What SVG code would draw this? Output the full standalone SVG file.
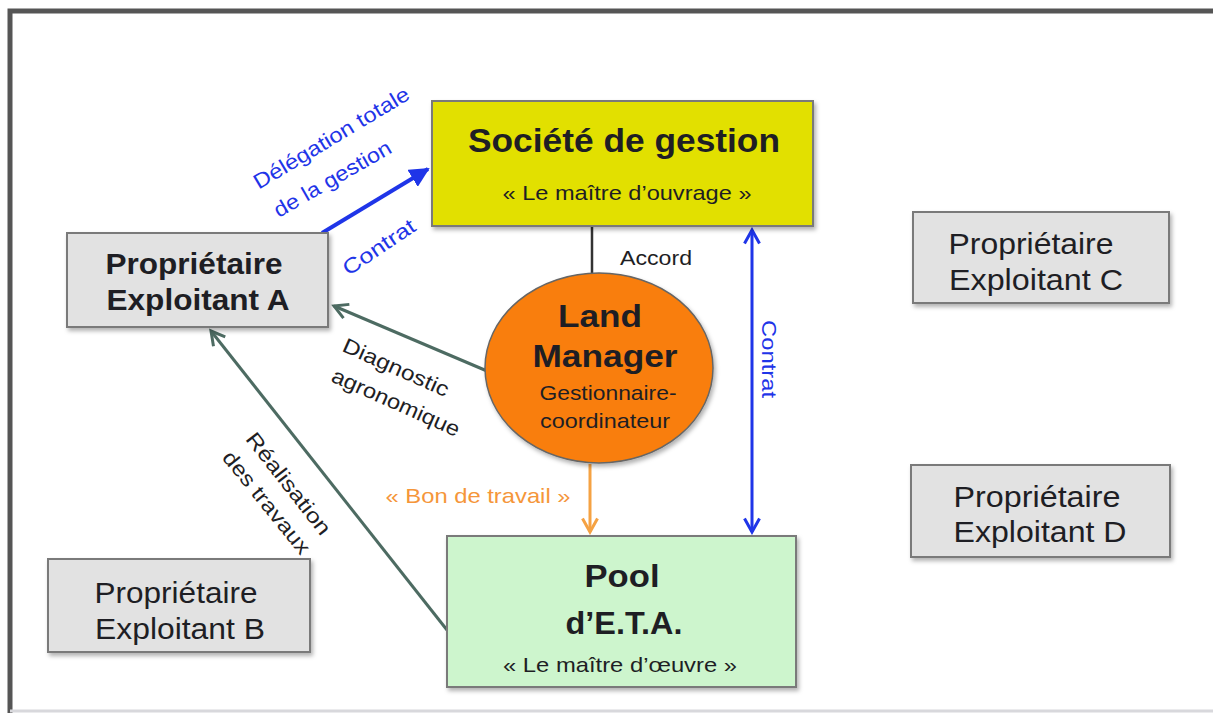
<svg xmlns="http://www.w3.org/2000/svg" width="1213" height="713" viewBox="0 0 1213 713">
<style>
text{font-family:"Liberation Sans",Arial,sans-serif;fill:#1e1e24}
.box{stroke:#7a7a7a;stroke-width:2}
.gray{fill:#e2e2e2}
.b{font-weight:bold}
.blue{fill:#1f35e8}
.lbl{font-size:21px}
.green{stroke:#4d6b62;stroke-width:3;fill:none}
</style>
<defs>
<filter id="sh" x="-10%" y="-10%" width="130%" height="130%">
<feDropShadow dx="2" dy="3" stdDeviation="2" flood-color="#000" flood-opacity="0.3"/>
</filter>
<marker id="blueFill" viewBox="0 0 10 10" refX="9" refY="5" markerWidth="5" markerHeight="5" orient="auto">
<path d="M0,0 L10,5 L0,10 z" fill="#1f35e8"/>
</marker>
<marker id="blueOpen" viewBox="0 0 12 12" refX="10" refY="6" markerWidth="6" markerHeight="6" orient="auto-start-reverse">
<path d="M1,1 L10,6 L1,11" fill="none" stroke="#1f35e8" stroke-width="2"/>
</marker>
<marker id="greenOpen" viewBox="0 0 12 12" refX="10" refY="6" markerWidth="6" markerHeight="6" orient="auto">
<path d="M1,1 L10,6 L1,11" fill="none" stroke="#4d6b62" stroke-width="2"/>
</marker>
<marker id="orangeOpen" viewBox="0 0 12 12" refX="10" refY="6" markerWidth="6" markerHeight="6" orient="auto">
<path d="M1,1 L10,6 L1,11" fill="none" stroke="#f5a243" stroke-width="2"/>
</marker>
</defs>
<rect width="1213" height="713" fill="#ffffff"/>
<!-- frame -->
<path d="M10,713 L10,11 L1213,11" fill="none" stroke="#555" stroke-width="5"/>
<line x1="10" y1="711" x2="1213" y2="711" stroke="#d8d8dc" stroke-width="3"/>

<g id="connectors">
<line x1="592" y1="226" x2="592" y2="274" stroke="#333" stroke-width="2.5"/>
<text x="656" y="265" text-anchor="middle" class="lbl" textLength="72" lengthAdjust="spacingAndGlyphs">Accord</text>
<line x1="322" y1="233" x2="428" y2="169" stroke="#1f35e8" stroke-width="4" marker-end="url(#blueFill)"/>
<text transform="translate(335,144) rotate(-31)" text-anchor="middle" class="lbl blue" textLength="178" lengthAdjust="spacingAndGlyphs">Délégation totale</text>
<text transform="translate(336,185) rotate(-30)" text-anchor="middle" class="lbl blue" textLength="132" lengthAdjust="spacingAndGlyphs">de la gestion</text>
<text transform="translate(383,253) rotate(-34)" text-anchor="middle" class="lbl blue" textLength="83" lengthAdjust="spacingAndGlyphs">Contrat</text>
<line x1="752" y1="230" x2="752" y2="532" stroke="#1f35e8" stroke-width="3" marker-start="url(#blueOpen)" marker-end="url(#blueOpen)"/>
<text transform="translate(762,359) rotate(90)" text-anchor="middle" class="lbl blue" textLength="78" lengthAdjust="spacingAndGlyphs">Contrat</text>
<line x1="487" y1="371" x2="334" y2="306" class="green" marker-end="url(#greenOpen)"/>
<text transform="translate(393,374) rotate(24)" text-anchor="middle" class="lbl" textLength="114" lengthAdjust="spacingAndGlyphs">Diagnostic</text>
<text transform="translate(393,409) rotate(24)" text-anchor="middle" class="lbl" textLength="138" lengthAdjust="spacingAndGlyphs">agronomique</text>
<line x1="447" y1="630" x2="211" y2="331" class="green" marker-end="url(#greenOpen)"/>
<text transform="translate(283,488) rotate(52)" text-anchor="middle" class="lbl" textLength="124" lengthAdjust="spacingAndGlyphs">Réalisation</text>
<text transform="translate(261,507) rotate(51)" text-anchor="middle" class="lbl" textLength="126" lengthAdjust="spacingAndGlyphs">des travaux</text>
<line x1="590" y1="464" x2="590" y2="532" stroke="#f5a243" stroke-width="3" marker-end="url(#orangeOpen)"/>
<text x="478" y="503" text-anchor="middle" class="lbl" style="fill:#f5963a" textLength="185" lengthAdjust="spacingAndGlyphs">« Bon de travail »</text>
</g>

<g id="societe">
<rect x="432" y="101" width="381" height="125" fill="#e2e000" class="box" filter="url(#sh)"/>
<text x="624" y="152" text-anchor="middle" font-size="34" class="b" textLength="312" lengthAdjust="spacingAndGlyphs">Société de gestion</text>
<text x="627" y="200" text-anchor="middle" font-size="21" textLength="249" lengthAdjust="spacingAndGlyphs">« Le maître d’ouvrage »</text>
</g>

<g id="landmanager">
<ellipse cx="599" cy="368" rx="114" ry="95" fill="#f97e08" stroke="#666" stroke-width="1.5" filter="url(#sh)"/>
<text x="600" y="327" text-anchor="middle" font-size="31" class="b" textLength="84" lengthAdjust="spacingAndGlyphs">Land</text>
<text x="605" y="367" text-anchor="middle" font-size="31" class="b" textLength="145" lengthAdjust="spacingAndGlyphs">Manager</text>
<text x="608" y="400" text-anchor="middle" font-size="21" textLength="137" lengthAdjust="spacingAndGlyphs">Gestionnaire-</text>
<text x="605" y="428" text-anchor="middle" font-size="21" textLength="130" lengthAdjust="spacingAndGlyphs">coordinateur</text>
</g>

<g id="pool">
<rect x="447" y="536" width="349" height="151" fill="#cdf5cd" class="box" filter="url(#sh)"/>
<text x="622" y="587" text-anchor="middle" font-size="32" class="b" textLength="75" lengthAdjust="spacingAndGlyphs">Pool</text>
<text x="624" y="634" text-anchor="middle" font-size="32" class="b" textLength="117" lengthAdjust="spacingAndGlyphs">d’E.T.A.</text>
<text x="620" y="672" text-anchor="middle" font-size="21" textLength="234" lengthAdjust="spacingAndGlyphs">« Le maître d’œuvre »</text>
</g>

<g id="propA">
<rect x="67" y="233" width="261" height="94" class="box gray" filter="url(#sh)"/>
<text x="194" y="274" text-anchor="middle" font-size="29" class="b" textLength="177" lengthAdjust="spacingAndGlyphs">Propriétaire</text>
<text x="198" y="310" text-anchor="middle" font-size="29" class="b" textLength="183" lengthAdjust="spacingAndGlyphs">Exploitant A</text>
</g>

<g id="propB">
<rect x="48" y="559" width="262" height="93" class="box gray" filter="url(#sh)"/>
<text x="176" y="603" text-anchor="middle" font-size="29" textLength="163" lengthAdjust="spacingAndGlyphs">Propriétaire</text>
<text x="180" y="639" text-anchor="middle" font-size="29" textLength="170" lengthAdjust="spacingAndGlyphs">Exploitant B</text>
</g>

<g id="propC">
<rect x="913" y="212" width="256" height="91" class="box gray" filter="url(#sh)"/>
<text x="1031" y="254" text-anchor="middle" font-size="29" textLength="165" lengthAdjust="spacingAndGlyphs">Propriétaire</text>
<text x="1036" y="290" text-anchor="middle" font-size="29" textLength="174" lengthAdjust="spacingAndGlyphs">Exploitant C</text>
</g>

<g id="propD">
<rect x="911" y="465" width="259" height="92" class="box gray" filter="url(#sh)"/>
<text x="1037" y="507" text-anchor="middle" font-size="29" textLength="167" lengthAdjust="spacingAndGlyphs">Propriétaire</text>
<text x="1040" y="542" text-anchor="middle" font-size="29" textLength="173" lengthAdjust="spacingAndGlyphs">Exploitant D</text>
</g>
</svg>
